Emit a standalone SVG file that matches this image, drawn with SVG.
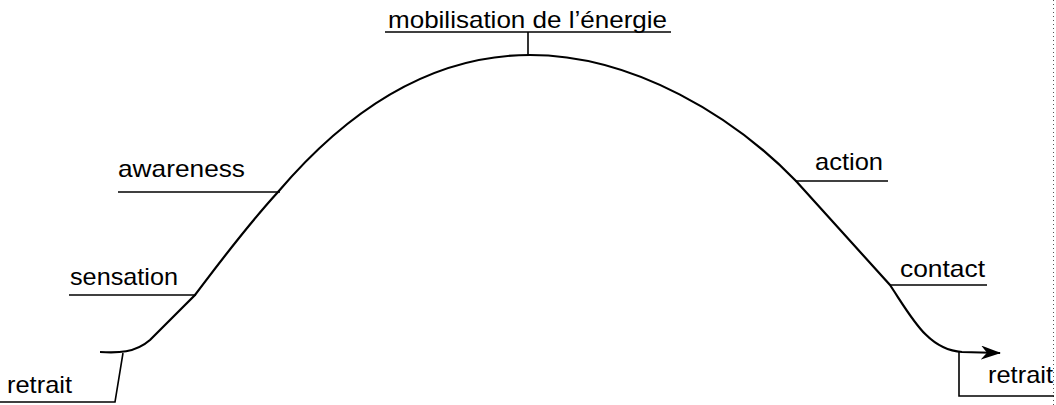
<svg xmlns="http://www.w3.org/2000/svg" width="1056" height="405" viewBox="0 0 1056 405">
<style>
.ln{fill:none;stroke:#000;stroke-width:1.6}
.crv{fill:none;stroke:#000;stroke-width:2.2}
.t{font-family:"Liberation Sans",Arial,sans-serif;font-size:24px;fill:#000}
</style>
<defs>
<marker id="ah" viewBox="0 0 20 14" refX="19" refY="7" markerWidth="20" markerHeight="14" markerUnits="userSpaceOnUse" orient="auto">
<path d="M0,0 L20,7 L0,14 L6,7 Z" fill="#000"/>
</marker>
</defs>
<rect width="1056" height="405" fill="#fff"/>
<g id="connectors">
<path class="crv" d="M100,352 C118,353 135,353 150,340 L195,295 C220,262 245,228 278,192 C318,145 405,55 530,55 C635,55 735,118 796,181 L890,285 C912,318 928,350 962,352 L1000,353" marker-end="url(#ah)"/>
<line x1="1053.5" y1="0" x2="1053.5" y2="405" stroke="#555" stroke-width="1" stroke-dasharray="1,3"/>
</g>
<g id="node-mobilisation">
<text class="t" x="388" y="28" textLength="279" lengthAdjust="spacingAndGlyphs">mobilisation de l’énergie</text>
<line class="ln" x1="385" y1="32" x2="671" y2="32"/>
<line class="ln" x1="528" y1="32" x2="528" y2="55"/>
</g>
<g id="node-awareness">
<text class="t" x="118" y="177" textLength="127" lengthAdjust="spacingAndGlyphs">awareness</text>
<line class="ln" x1="118" y1="192" x2="280" y2="192"/>
</g>
<g id="node-sensation">
<text class="t" x="70" y="285" textLength="108" lengthAdjust="spacingAndGlyphs">sensation</text>
<line class="ln" x1="69" y1="295" x2="196" y2="295"/>
</g>
<g id="node-action">
<text class="t" x="815" y="170" textLength="68" lengthAdjust="spacingAndGlyphs">action</text>
<line class="ln" x1="795" y1="181" x2="888" y2="181"/>
</g>
<g id="node-contact">
<text class="t" x="900" y="277" textLength="85" lengthAdjust="spacingAndGlyphs">contact</text>
<line class="ln" x1="890" y1="285" x2="987" y2="285"/>
</g>
<g id="node-retrait-left">
<text class="t" x="7" y="393" textLength="65" lengthAdjust="spacingAndGlyphs">retrait</text>
<polyline class="ln" points="123,353 115,402 0,402"/>
</g>
<g id="node-retrait-right">
<text class="t" x="988" y="383" textLength="65" lengthAdjust="spacingAndGlyphs">retrait</text>
<polyline class="ln" points="959,352 959,396 1054,396"/>
</g>
</svg>
